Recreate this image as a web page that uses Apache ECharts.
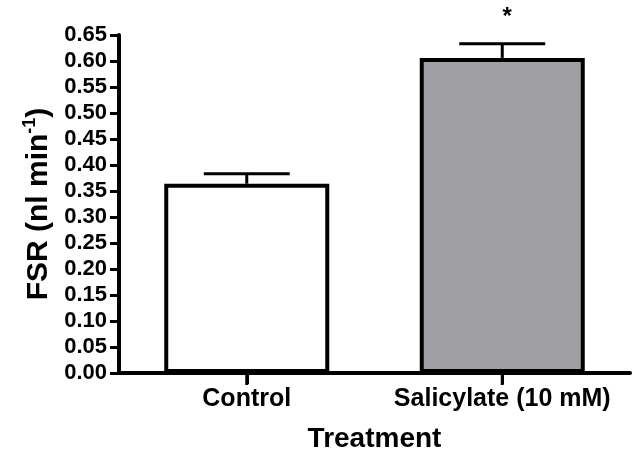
<!DOCTYPE html>
<html>
<head>
<meta charset="utf-8">
<script src="https://cdn.jsdelivr.net/npm/echarts@6/dist/echarts.min.js"></script>
<style>
html,body{margin:0;padding:0;background:#fff;}
#chart{width:642px;height:458px;}
</style>
</head>
<body>
<div id="chart"></div>
<script>
const categories = ['Control', 'Salicylate (10 mM)'];
const fsrMean = [0.364, 0.606];
const fsrSem = [0.019, 0.027];
const significance = ['', '*'];
const barColors = ['#ffffff', '#a0a0a4'];

const FONT = '"Liberation Sans", Arial, sans-serif';
const chart = echarts.init(document.getElementById('chart'), null, {renderer: 'canvas'});

const errData = fsrMean.map((m, i) => [i, m, m + fsrSem[i]]);

chart.setOption({
  animation: false,
  backgroundColor: '#ffffff',
  grid: {left: 119, right: 12, top: 35, bottom: 85, containLabel: false},
  xAxis: {
    type: 'category',
    data: categories,
    name: 'Treatment',
    nameLocation: 'middle',
    nameGap: 52,
    nameTextStyle: {fontFamily: FONT, fontWeight: 'bold', fontSize: 28, color: '#000'},
    axisLine: {show: true, lineStyle: {color: '#000', width: 4}},
    axisTick: {show: true, alignWithLabel: true, interval: 0, length: 11, lineStyle: {color: '#000', width: 3}},
    axisLabel: {fontFamily: FONT, fontWeight: 'bold', fontSize: 25, color: '#000', margin: 14, interval: 0},
    splitLine: {show: false}
  },
  yAxis: {
    type: 'value',
    min: 0,
    max: 0.65,
    interval: 0.05,
    name: '{t|FSR (nl min}{s|-1}{t|)}',
    nameLocation: 'middle',
    nameRotate: 90,
    nameGap: 63,
    nameTextStyle: {
      rich: {
        t: {fontFamily: FONT, fontWeight: 'bold', fontSize: 30, color: '#000'},
        s: {fontFamily: FONT, fontWeight: 'bold', fontSize: 18, color: '#000', verticalAlign: 'top', padding: [0, 0, 16, 0]}
      }
    },
    axisLine: {show: true, lineStyle: {color: '#000', width: 4}},
    axisTick: {show: true, length: 9, lineStyle: {color: '#000', width: 3}},
    axisLabel: {fontFamily: FONT, fontWeight: 'bold', fontSize: 22, color: '#000', margin: 12,
      formatter: v => v.toFixed(2)},
    splitLine: {show: false}
  },
  series: [
    {
      type: 'bar',
      data: fsrMean.map((v, i) => ({value: v, itemStyle: {color: barColors[i]}})),
      barWidth: 165,
      itemStyle: {borderColor: '#000', borderWidth: 4},
      z: 2
    },
    {
      type: 'custom',
      data: errData,
      z: 3,
      clip: false,
      renderItem: function (params, api) {
        const i = api.value(0);
        const top = api.coord([i, api.value(1)]);
        const cap = api.coord([i, api.value(2)]);
        const half = 43;
        const children = [
          {type: 'line', shape: {x1: top[0], y1: top[1], x2: cap[0], y2: cap[1]}, style: {stroke: '#000', lineWidth: 3}},
          {type: 'line', shape: {x1: cap[0] - half, y1: cap[1], x2: cap[0] + half, y2: cap[1]}, style: {stroke: '#000', lineWidth: 3}}
        ];
        const sig = significance[params.dataIndex];
        if (sig) {
          children.push({type: 'text', style: {text: sig, x: cap[0] + 5, y: cap[1] - 14, align: 'center', verticalAlign: 'bottom',
            font: 'bold 24px ' + FONT, fill: '#000'}});
        }
        return {type: 'group', children: children};
      }
    }
  ]
});

// category ticks placed through the library's own scale
const tickEls = categories.map((c, i) => {
  const p = chart.convertToPixel({xAxisIndex: 0, yAxisIndex: 0}, [i, 0]);
  return {type: 'rect', z: 100, shape: {x: p[0] - 1.5, y: p[1] + 1, width: 3, height: 11}, style: {fill: '#000'}};
});
chart.setOption({graphic: tickEls});
</script>
</body>
</html>
